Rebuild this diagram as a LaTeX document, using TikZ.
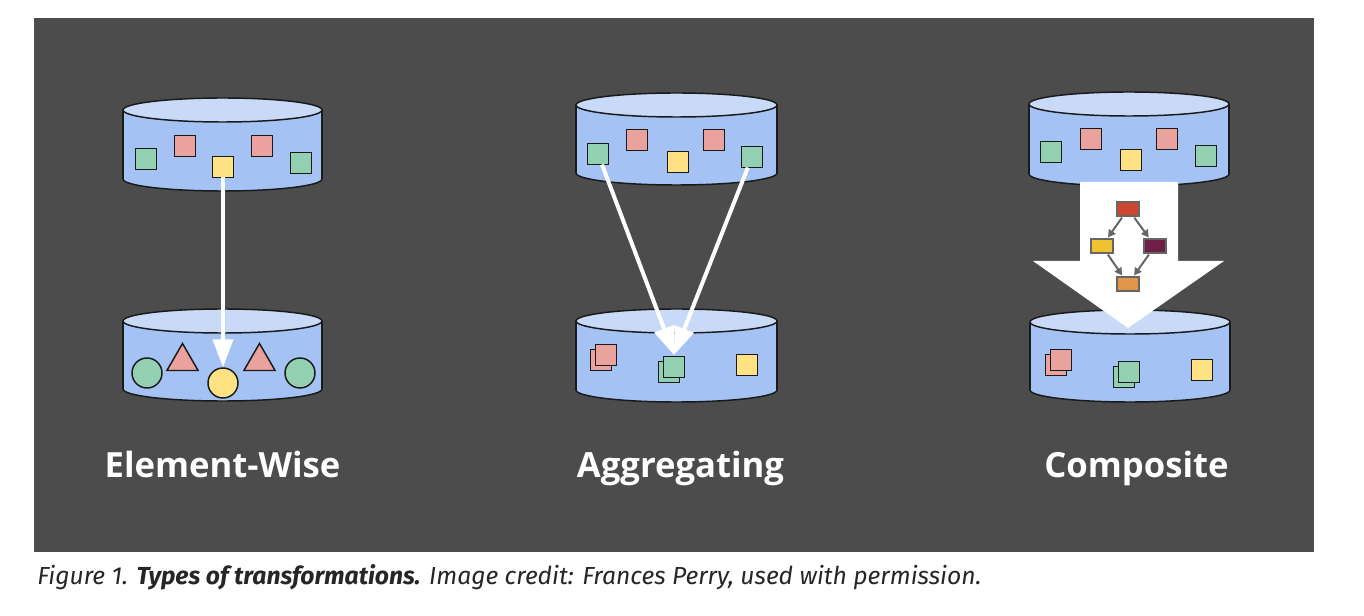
\documentclass[tikz,border=0pt]{standalone}
\usepackage{fontspec}
\setmainfont{Open Sans}
\newfontfamily\capfont{Fira Sans}
\usetikzlibrary{shapes.geometric,arrows.meta}
\definecolor{bgdark}{HTML}{4C4C4C}
\definecolor{cylside}{HTML}{A4C2F4}
\definecolor{cyltop}{HTML}{C9DAF8}
\definecolor{cylline}{HTML}{1A1A1A}
\definecolor{elgreen}{HTML}{93CFB1}
\definecolor{elpink}{HTML}{EAA29E}
\definecolor{elyellow}{HTML}{FFE284}
\definecolor{bxred}{HTML}{CC4630}
\definecolor{bxyellow}{HTML}{F1C232}
\definecolor{bxpurple}{HTML}{6E1F45}
\definecolor{bxorange}{HTML}{E0954A}
\definecolor{gline}{HTML}{666666}
\newcommand\mycyl[4]{%
  \draw[cylstroke,fill=cylside] (#1,#4) ellipse [x radius=#2, y radius=12];
  \fill[cylside] ({#1-#2},#3) rectangle ({#1+#2},#4);
  \draw[cylstroke] ({#1-#2},#3) -- ({#1-#2},#4) ({#1+#2},#3) -- ({#1+#2},#4);
  \draw[cylstroke,fill=cyltop] (#1,#3) ellipse [x radius=#2, y radius=12];
}
\begin{document}
\begin{tikzpicture}[x=0.75pt,y=-0.75pt,
  cylstroke/.style={draw=cylline,line width=1.1pt},
  sq/.style={draw=cylline,line width=1.1pt,minimum size=15.75pt,inner sep=0pt,outer sep=0pt},
  circ/.style={circle,draw=cylline,line width=1.1pt,minimum size=22.5pt,inner sep=0pt},
  tri/.style={regular polygon,regular polygon sides=3,draw=cylline,line width=1.1pt,minimum size=27pt,inner sep=0pt,fill=elpink},
  whitearrow/.style={draw=white,line width=3pt,-{Triangle[width=15pt,length=21pt]}},
  bx/.style={draw=gline,line width=0.8pt,minimum width=16.5pt,minimum height=10.5pt,inner sep=0pt},
  garrow/.style={draw=gline,line width=1.5pt,-{Triangle[width=6pt,length=5.5pt]},shorten <=1pt,shorten >=1pt},
  lbl/.style={text=white,font=\fontsize{26}{30}\selectfont\bfseries,anchor=base,inner sep=0pt},
]
\useasboundingbox (0,0) rectangle (1364,616);
\fill[white] (0,0) rectangle (1364,616);
\fill[bgdark] (34,18) rectangle (1314,552);

% ---------- Element-Wise ----------
\mycyl{222.5}{99.5}{110}{179}
\mycyl{222.5}{99.5}{321}{389}
\node[sq,fill=elgreen]  (a1) at (146,159) {};
\node[sq,fill=elpink]   (a2) at (185,146) {};
\node[sq,fill=elyellow] (a3) at (223,167) {};
\node[sq,fill=elpink]   (a4) at (262,146) {};
\node[sq,fill=elgreen]  (a5) at (301,163) {};
\node[circ,fill=elgreen]  (b1) at (147,373) {};
\node[tri] (b2) at (182.5,361.5) {};
\node[circ,fill=elyellow] (b3) at (223,383) {};
\node[tri] (b4) at (259.5,361.5) {};
\node[circ,fill=elgreen]  (b5) at (300,373) {};
\draw[whitearrow] (a3) -- (b3);
\node[lbl] (l1) at (222.5,478) {Element-Wise};

% ---------- Aggregating ----------
\mycyl{676.5}{100.5}{105}{173}
\mycyl{676.5}{100.5}{321}{390}
\node[sq,fill=elgreen]  (m1) at (598,154) {};
\node[sq,fill=elpink]   (m2) at (637,140) {};
\node[sq,fill=elyellow] (m3) at (678,162) {};
\node[sq,fill=elpink]   (m4) at (714,140) {};
\node[sq,fill=elgreen]  (m5) at (752,157) {};
\node[sq,fill=elpink]   (n1b) at (601,360) {};
\node[sq,fill=elpink]   (n1) at (606,355) {};
\node[sq,fill=elgreen]  (n2b) at (669,372) {};
\node[sq,fill=elgreen]  (n2) at (674,367) {};
\node[sq,fill=elyellow] (n3) at (747,365) {};
\coordinate (mt) at (674,355);
\draw[whitearrow] (m1) -- (mt);
\draw[whitearrow] (m5) -- (mt);
\node[lbl] (l2) at (680.5,478) {Aggregating};

% ---------- Composite ----------
\mycyl{1129}{100}{104}{174}
\mycyl{1130}{100}{322}{390}
\node[sq,fill=elgreen]  (r1) at (1051,152) {};
\node[sq,fill=elpink]   (r2) at (1091,139) {};
\node[sq,fill=elyellow] (r3) at (1131,160) {};
\node[sq,fill=elpink]   (r4) at (1167,139) {};
\node[sq,fill=elgreen]  (r5) at (1206,156) {};
\node[sq,fill=elpink]   (s1b) at (1056,365) {};
\node[sq,fill=elpink]   (s1) at (1061,360) {};
\node[sq,fill=elgreen]  (s2b) at (1124,377) {};
\node[sq,fill=elgreen]  (s2) at (1129,372) {};
\node[sq,fill=elyellow] (s3) at (1202,370) {};
\fill[white] (1080,182) -- (1178,182) -- (1178,261) -- (1224,261) -- (1128,328)
  -- (1033,261) -- (1080,261) -- cycle;
\node[bx,fill=bxred]    (c1) at (1128,209) {};
\node[bx,fill=bxyellow] (c2) at (1102,246) {};
\node[bx,fill=bxpurple] (c3) at (1155,246) {};
\node[bx,fill=bxorange] (c4) at (1128,284) {};
\draw[garrow] (c1) -- (c2);
\draw[garrow] (c1) -- (c3);
\draw[garrow] (c2) -- (c4);
\draw[garrow] (c3) -- (c4);
\node[lbl] (l3) at (1136.5,478) {Composite};

% ---------- caption ----------
\node[anchor=base west,inner sep=0pt,text=black!85,font=\capfont\itshape\fontsize{18.5}{22}\selectfont] (cap) at (37,584)
  {Figure 1. \textbf{Types of transformations.} Image credit: Frances Perry, used with permission.};
\end{tikzpicture}
\end{document}
